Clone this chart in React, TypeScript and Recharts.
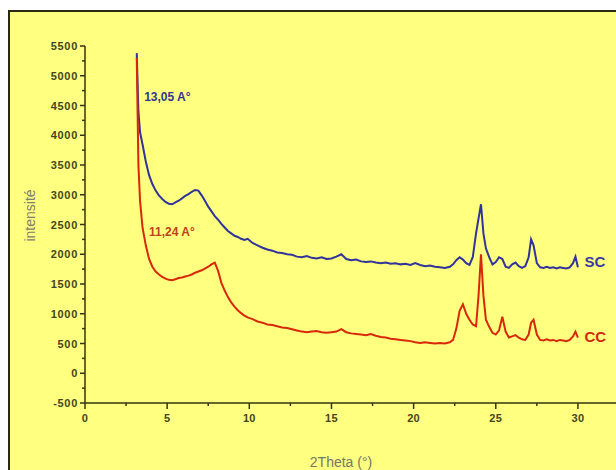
import React from 'react';
import { LineChart, Line, XAxis, YAxis, ReferenceDot, Label } from 'recharts';

// 2theta positions (deg)
const twoTheta = [
  3.15, 3.25, 3.35, 3.5, 3.7, 3.9, 4.1, 4.3, 4.5, 4.7, 4.9, 5.1, 5.3, 5.5, 5.7, 5.9, 6.1, 6.3, 6.5, 6.7,
  6.9, 7.1, 7.3, 7.5, 7.7, 7.9, 8.1, 8.3, 8.5, 8.7, 8.9, 9.1, 9.3, 9.5, 9.7, 9.9,
  10.2, 10.5, 10.8, 11.1, 11.4, 11.7, 12.0, 12.3, 12.6, 12.9, 13.2, 13.5, 13.8, 14.1, 14.4, 14.7, 15.0,
  15.3, 15.6, 15.9, 16.2, 16.5, 16.8, 17.1, 17.4, 17.7, 18.0, 18.3, 18.6, 18.9, 19.2, 19.5, 19.8, 20.1,
  20.4, 20.7, 21.0, 21.3, 21.6, 21.9, 22.2,
  22.4, 22.6, 22.8, 23.0, 23.2, 23.4, 23.6, 23.8, 23.95, 24.1, 24.25, 24.4, 24.6, 24.8, 25.0, 25.2, 25.4,
  25.6, 25.8, 26.0, 26.2, 26.4, 26.6, 26.8, 27.0, 27.15, 27.3, 27.5, 27.7, 27.9, 28.1, 28.3, 28.5, 28.7,
  28.9, 29.1, 29.3, 29.5, 29.7, 29.85, 30.0,
];

const scValues = [
  5380, 4400, 4050, 3850, 3560, 3330, 3180, 3070, 2990, 2930, 2880, 2850, 2840, 2870, 2900, 2940, 2980, 3010, 3050, 3080,
  3070, 2990, 2900, 2800, 2720, 2640, 2580, 2510, 2450, 2390, 2350, 2310, 2290, 2260, 2240, 2260,
  2190, 2150, 2110, 2080, 2060, 2030, 2020, 2000, 1990, 1960, 1950, 1970, 1940, 1930, 1950, 1920, 1930,
  1960, 2000, 1920, 1900, 1910, 1880, 1870, 1880, 1860, 1850, 1860, 1840, 1850, 1830, 1840, 1820, 1850,
  1820, 1800, 1810, 1790, 1780, 1770, 1790,
  1830, 1900, 1950, 1910, 1850, 1820, 1950, 2350, 2600, 2840, 2350, 2100, 1950, 1830, 1870, 1950, 1920,
  1790, 1770, 1830, 1860, 1800, 1770, 1800, 1950, 2250, 2150, 1850, 1780, 1770, 1790, 1770, 1780, 1760,
  1780, 1770, 1760, 1780, 1850, 1960, 1780,
];

const ccValues = [
  5300, 3500, 2900, 2450, 2150, 1920, 1790, 1710, 1660, 1620, 1590, 1570, 1565, 1580, 1600, 1610, 1625, 1640, 1660, 1690,
  1710, 1730, 1760, 1790, 1830, 1860, 1720, 1520, 1390, 1280, 1190, 1120, 1060, 1010, 970, 940,
  910, 870, 850, 820, 810, 790, 770, 760, 740, 720, 700, 690, 700, 710, 690, 680, 690,
  700, 740, 690, 670, 660, 650, 640, 660, 630, 610, 600, 580, 570, 560, 550, 540, 520,
  510, 520, 510, 500, 510, 500, 520,
  560, 750, 1050, 1160, 1000, 900, 820, 790, 1300, 2000, 1300, 900, 780, 680, 650, 720, 950,
  700, 600, 620, 640, 600, 570, 560, 650, 850, 900, 650, 560, 550, 570, 550, 560, 540,
  560, 550, 540, 560, 620, 700, 600,
];

const xTicks = [0, 2.5, 5, 7.5, 10, 12.5, 15, 17.5, 20, 22.5, 25, 27.5, 30, 32.5];
const yTicks = [
  -500, -250, 0, 250, 500, 750, 1000, 1250, 1500, 1750, 2000, 2250, 2500, 2750,
  3000, 3250, 3500, 3750, 4000, 4250, 4500, 4750, 5000, 5250, 5500,
];

const data = twoTheta.map((t, i) => ({ t, sc: scValues[i], cc: ccValues[i] }));

const AXIS = '#34340f';
const BLUE = '#30339a';
const RED = '#d8280a';

const YTick = (props: any) => {
  const { x, y, payload } = props;
  const major = payload.value % 500 === 0;
  return (
    <g>
      <line x1={x - (major ? 5 : 3)} x2={x} y1={y} y2={y} stroke={AXIS} strokeWidth={1.5} />
      {major && (
        <text x={x - 7} y={y} dy={4} textAnchor="end" fontSize={11} fontWeight={700} letterSpacing={0.7} fill="#45451a">
          {payload.value}
        </text>
      )}
    </g>
  );
};

const XTick = (props: any) => {
  const { x, y, payload } = props;
  const major = payload.value % 5 === 0;
  return (
    <g>
      <line x1={x} x2={x} y1={y} y2={y + (major ? 6 : 3)} stroke={AXIS} strokeWidth={1.5} />
      {major && (
        <text x={x} y={y + 19} textAnchor="middle" fontSize={11} fontWeight={700} letterSpacing={0.3} fill="#45451a">
          {payload.value}
        </text>
      )}
    </g>
  );
};

export default function App() {
  return (
    <div
      style={{
        position: 'absolute',
        left: 8,
        top: 10,
        width: 608,
        height: 460,
        overflow: 'hidden',
        background: '#ffff80',
        borderTop: '2px solid #2a2a10',
        borderLeft: '2px solid #2a2a10',
        boxSizing: 'border-box',
        fontFamily: 'Arial, "Liberation Sans", sans-serif',
      }}
    >
      <LineChart width={620} height={458} data={data} margin={{ top: 34, right: 11, left: 0, bottom: 37 }}>
        <XAxis
          dataKey="t"
          type="number"
          domain={[0, 32.5]}
          ticks={xTicks}
          interval={0}
          tickSize={0}
          tickMargin={0}
          tick={<XTick />}
          height={30}
          axisLine={{ stroke: AXIS, strokeWidth: 1.5 }}
          allowDataOverflow
        >
          <Label
            content={(p: any) => {
              const vb = p.viewBox;
              const cx = vb.x + vb.width / 2 - 11;
              return (
                <text x={cx} y={vb.y + 59} textAnchor="middle" dominantBaseline="central" fontSize={14} fill="#76766a">
                  2Theta (°)
                </text>
              );
            }}
          />
        </XAxis>
        <YAxis
          type="number"
          domain={[-500, 5500]}
          ticks={yTicks}
          interval={0}
          tickSize={0}
          tickMargin={0}
          tick={<YTick />}
          width={75}
          axisLine={{ stroke: AXIS, strokeWidth: 1.5 }}
          allowDataOverflow
        >
          <Label
            content={(p: any) => {
              const vb = p.viewBox;
              const lx = vb.x + 20;
              const ly = vb.y + vb.height / 2 - 9;
              return (
                <text
                  x={lx}
                  y={ly}
                  transform={`rotate(-90, ${lx}, ${ly})`}
                  textAnchor="middle"
                  dominantBaseline="central"
                  fontSize={14}
                  fill="#7e7e6c"
                >
                  intensité
                </text>
              );
            }}
          />
        </YAxis>
        <Line type="linear" dataKey="sc" stroke={BLUE} strokeWidth={2} dot={false} isAnimationActive={false} />
        <Line type="linear" dataKey="cc" stroke={RED} strokeWidth={2} dot={false} isAnimationActive={false} />
        <ReferenceDot
          x={3.6}
          y={4640}
          r={0}
          label={{ value: '13,05 A°', position: 'right', offset: 0, fill: '#353590', fontSize: 12, fontWeight: 700 }}
        />
        <ReferenceDot
          x={3.9}
          y={2370}
          r={0}
          label={{ value: '11,24 A°', position: 'right', offset: 0, fill: '#c0401a', fontSize: 12, fontWeight: 700 }}
        />
        <ReferenceDot
          x={30.4}
          y={1870}
          r={0}
          label={{ value: 'SC', position: 'right', offset: 0, fill: '#3a3aa0', fontSize: 15, fontWeight: 700 }}
        />
        <ReferenceDot
          x={30.4}
          y={610}
          r={0}
          label={{ value: 'CC', position: 'right', offset: 0, fill: '#d02a10', fontSize: 15, fontWeight: 700 }}
        />
      </LineChart>
    </div>
  );
}
